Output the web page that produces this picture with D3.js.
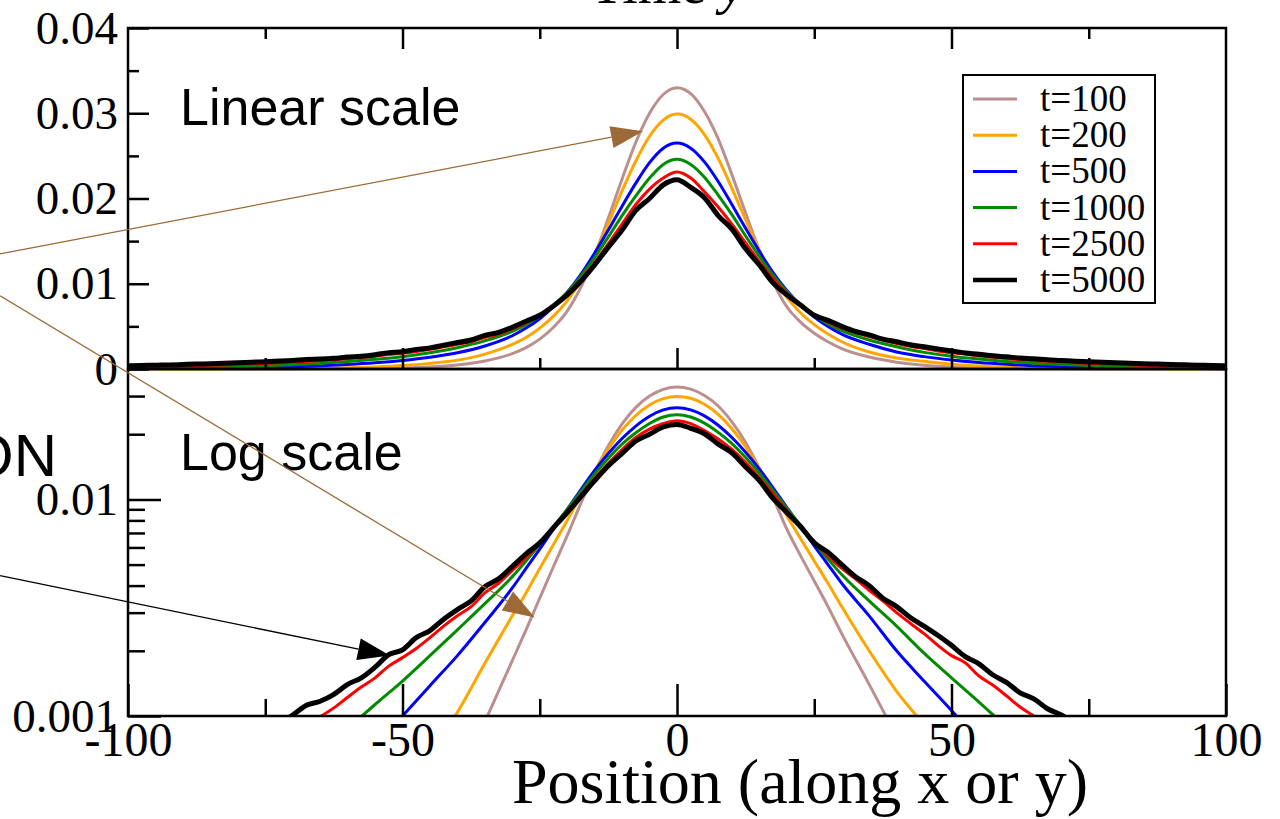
<!DOCTYPE html>
<html>
<head>
<meta charset="utf-8">
<script src="https://cdn.jsdelivr.net/npm/d3@7"></script>
<style>
  html, body { margin: 0; padding: 0; background: #fff; }
  svg { display: block; }
</style>
</head>
<body>
<svg id="chart" width="1280" height="819"></svg>
<script>
// Sampled positions along x (or y)
const positions = [-100,-95,-90,-85,-80,-75,-70,-65,-60,-55,-50,-45,-40,-35,
  -30,-27.5,-25,-22.5,-20,-17.5,-15,-12.5,-10,-7.5,-5,-2.5,0,2.5,5,7.5,10,12.5,15,17.5,20,22.5,25,27.5,30,
  35,40,45,50,55,60,65,70,75,80,85,90,95,100];
// Finer sampling used for the noisier late-time curves
const finePositions = [-100,-97.5,-95,-92.5,-90,-87.5,-85,-82.5,-80,-77.5,-75,-72.5,-70,-67.5,-65,-62.5,-60,-57.5,-55,-52.5,
  -50,-47.5,-45,-42.5,-40,-37.5,-35,-32.5,-30,-27.5,-25,-22.5,-20,-17.5,-15,-12.5,-10,-7.5,-5,-2.5,
  0,2.5,5,7.5,10,12.5,15,17.5,20,22.5,25,27.5,30,32.5,35,37.5,40,42.5,45,47.5,
  50,52.5,55,57.5,60,62.5,65,67.5,70,72.5,75,77.5,80,82.5,85,87.5,90,92.5,95,97.5,100];

// Distribution at each time
const p100 = [2e-7,3e-7,5e-7,1e-6,2e-6,4e-6,8e-6,1.5e-5,3e-5,6e-5,1.2e-4,2.4e-4,4.8e-4,9.4e-4,
  0.0018,0.0025,0.0035,0.0049,0.0068,0.0096,0.0133,0.0177,0.0223,0.0266,0.0300,0.0322,0.0330,0.0323,0.0302,0.0270,0.0228,0.0183,0.0139,0.0102,0.0073,0.0055,0.0042,0.0032,0.0024,
  0.0014,8.0e-4,4.4e-4,2.3e-4,1.2e-4,6e-5,3e-5,1.5e-5,7.5e-6,3.8e-6,1.9e-6,9e-7,4.5e-7,2.2e-7];
const p200 = [3e-6,5e-6,8e-6,1.2e-5,2e-5,3.3e-5,5.5e-5,9e-5,1.5e-4,2.4e-4,4e-4,6.6e-4,1.04e-3,1.75e-3,
  0.0029,0.0037,0.0048,0.0062,0.0080,0.0104,0.0135,0.0171,0.0209,0.0244,0.0273,0.0292,0.0299,0.0293,0.0275,0.0247,0.0212,0.0175,0.0139,0.0108,0.0084,0.0066,0.0052,0.0041,0.0032,
  0.0020,1.3e-3,9.0e-4,5.7e-4,3.5e-4,2.1e-4,1.3e-4,8e-5,5e-5,3e-5,1.9e-5,1.2e-5,7e-6,4e-6];
const p500 = [3e-5,4.5e-5,6.5e-5,9e-5,1.3e-4,1.8e-4,2.6e-4,3.7e-4,5.2e-4,7.2e-4,1.0e-3,1.38e-3,1.9e-3,2.7e-3,
  0.0039,0.0048,0.0059,0.0073,0.0090,0.0111,0.0136,0.0163,0.0191,0.0218,0.0242,0.0259,0.0265,0.0259,0.0243,0.0220,0.0193,0.0165,0.0138,0.0113,0.0092,0.0075,0.0061,0.0050,0.0041,
  0.0029,0.0020,1.45e-3,1.06e-3,7.6e-4,5.5e-4,3.9e-4,2.8e-4,2e-4,1.4e-4,1e-4,7e-5,5e-5,3.5e-5];
const p1000 = [1e-4,1.3e-4,1.7e-4,2.2e-4,2.9e-4,3.8e-4,5e-4,6.6e-4,8.7e-4,1.13e-3,1.45e-3,1.9e-3,2.5e-3,3.3e-3,
  0.0044,0.0052,0.0062,0.0075,0.0090,0.0109,0.0131,0.0155,0.0180,0.0203,0.0224,0.0240,0.0246,0.0240,0.0225,0.0204,0.0181,0.0156,0.0132,0.0110,0.0091,0.0076,0.0063,0.0053,0.0045,
  0.0034,0.0026,1.95e-3,1.5e-3,1.16e-3,8.9e-4,6.8e-4,5.2e-4,4e-4,3e-4,2.3e-4,1.8e-4,1.4e-4,1.1e-4];
const p2500 = [2.3e-4,2.5e-4,2.8e-4,3.1e-4,3.5e-4,3.9e-4,4.3e-4,4.8e-4,5.3e-4,5.9e-4,6.5e-4,7.2e-4,8.0e-4,8.8e-4,9.9e-4,1.09e-3,1.22e-3,1.36e-3,1.50e-3,1.70e-3,
  1.86e-3,2.05e-3,2.30e-3,2.60e-3,2.90e-3,3.20e-3,3.70e-3,4.10e-3,4.70e-3,5.40e-3,6.30e-3,7.40e-3,8.80e-3,0.0105,0.0125,0.0147,0.0170,0.0193,0.0211,0.0224,
  0.0231,0.0224,0.0208,0.0190,0.0170,0.0148,0.0126,0.0106,0.0089,0.0075,0.0064,0.0055,0.0048,0.0043,0.0038,0.0034,0.0030,0.00268,0.0024,0.00212,
  0.0019,0.00176,0.00153,0.00139,0.00124,0.00110,0.00100,0.00090,0.00081,0.00073,0.00066,0.00060,0.00054,0.00049,0.00044,0.00040,0.00036,0.00032,0.00029,0.00026,0.00024];
const p5000 = [3.8e-4,4.1e-4,4.5e-4,4.8e-4,5.3e-4,5.8e-4,6.2e-4,6.8e-4,7.3e-4,8.0e-4,8.6e-4,9.3e-4,1.01e-3,1.12e-3,1.17e-3,1.26e-3,1.40e-3,1.50e-3,1.68e-3,1.92e-3,
  2.02e-3,2.30e-3,2.48e-3,2.80e-3,3.10e-3,3.40e-3,3.95e-3,4.30e-3,4.90e-3,5.60e-3,6.30e-3,7.40e-3,8.70e-3,0.0103,0.0122,0.0143,0.0163,0.0186,0.0200,0.0216,
  0.0222,0.0213,0.0201,0.0180,0.0164,0.0141,0.0122,0.0101,0.0087,0.0075,0.0063,0.0057,0.0050,0.0044,0.0040,0.0035,0.0032,0.00285,0.0026,0.00236,
  0.00212,0.00188,0.00174,0.00155,0.00143,0.00128,0.00120,0.00108,0.00101,0.00092,0.00086,0.00079,0.00073,0.00068,0.00062,0.00058,0.00053,0.00049,0.00045,0.00042,0.00038];

const seriesLabels = ["t=100", "t=200", "t=500", "t=1000", "t=2500", "t=5000"];
const seriesValues = [p100, p200, p500, p1000, p2500, p5000];
const seriesPositions = [positions, positions, positions, positions, finePositions, finePositions];
const seriesColors = ["#bc8f8f", "#ffa500", "#0000ff", "#008b00", "#ff0000", "#000000"];

// Tick values and labels
const xTicks = [-100, -50, 0, 50, 100];
const xTickLabels = ["-100", "-50", "0", "50", "100"];
const xMinorTicks = [-75, -25, 25, 75];
const linTicks = [0, 0.01, 0.02, 0.03, 0.04];
const linTickLabels = ["0", "0.01", "0.02", "0.03", "0.04"];
const linMinorTicks = [0.005, 0.015, 0.025, 0.035];
const logTicks = [0.001, 0.01];
const logTickLabels = ["0.001", "0.01"];
const logMinorTicks = [0.002, 0.003, 0.004, 0.005, 0.006, 0.007, 0.008, 0.009, 0.02, 0.03];

// Pointer arrows, given in the coordinates of the panel they point into
const arrowPanels = ["linear", "log", "log"];
const arrowFrom = [[-123.3, 0.0135], [-123.3, 0.0871], [-123.3, 0.00445]];
const arrowTo = [[-6.2, 0.0279], [-25.9, 0.00285], [-52.3, 0.0019]];
const arrowColors = ["#9c6a36", "#9c6a36", "#000000"];

const serif = "'Liberation Serif','Times New Roman',Times,serif";
const sans = "'Liberation Sans',Arial,Helvetica,sans-serif";

const svg = d3.select("#chart");
const X0 = 128, X1 = 1226, TOP = 28, MID = 369, BOT = 716;

const x = d3.scaleLinear().domain([-100, 100]).range([X0, X1]);
const yLin = d3.scaleLinear().domain([0, 0.04]).range([MID, TOP]);
const yLog = d3.scaleLog().domain([0.001, 0.04]).range([BOT, MID]);

svg.append("rect").attr("width", 1280).attr("height", 819).attr("fill", "#fff");

svg.append("defs").append("clipPath").attr("id", "logClip")
  .append("rect").attr("x", X0).attr("y", MID).attr("width", X1 - X0).attr("height", BOT - MID);

const series = seriesLabels.map((label, i) => ({
  label, values: seriesValues[i], xs: seriesPositions[i], color: seriesColors[i],
  width: label === "t=5000" ? 5 : 3
}));

const lineFor = (ys, s) => d3.line()
  .x((d, i) => x(s.xs[i])).y(d => ys(d)).curve(d3.curveMonotoneX)(s.values);

// Curves: linear panel
svg.append("g").selectAll("path").data(series).join("path")
  .attr("d", d => lineFor(yLin, d))
  .attr("fill", "none").attr("stroke", d => d.color).attr("stroke-width", d => d.width)
  .attr("stroke-linejoin", "round");

// Curves: log panel
svg.append("g").attr("clip-path", "url(#logClip)")
  .selectAll("path").data(series).join("path")
  .attr("d", d => lineFor(yLog, d))
  .attr("fill", "none").attr("stroke", d => d.color).attr("stroke-width", d => d.width)
  .attr("stroke-linejoin", "round");

// Panel frames
[[TOP, MID], [MID, BOT]].forEach(([a, b]) => {
  svg.append("rect").attr("x", X0).attr("y", a).attr("width", X1 - X0).attr("height", b - a)
    .attr("fill", "none").attr("stroke", "#000").attr("stroke-width", 2.5);
});

function styleAxis(g, fontSize) {
  g.select(".domain").remove();
  g.selectAll(".tick line").attr("stroke", "#000").attr("stroke-width", 2.5);
  g.selectAll("text").attr("fill", "#000").attr("font-family", serif).attr("font-size", fontSize);
}

const add = (tr, axis, fs) => svg.append("g").attr("transform", tr).call(axis).call(g => styleAxis(g, fs));

// Linear panel axes
add(`translate(${X0},0)`, d3.axisLeft(yLin).tickValues(linTicks).tickFormat((d, i) => linTickLabels[i]).tickSize(-21).tickPadding(10), 47);
add(`translate(${X0},0)`, d3.axisLeft(yLin).tickValues(linMinorTicks).tickFormat("").tickSize(-11), 0);
add(`translate(0,${TOP})`, d3.axisTop(x).tickValues([-50, 0, 50]).tickFormat("").tickSize(-21), 0);
add(`translate(0,${TOP})`, d3.axisTop(x).tickValues(xMinorTicks).tickFormat("").tickSize(-11), 0);
add(`translate(0,${MID})`, d3.axisBottom(x).tickValues([-50, 0, 50]).tickFormat("").tickSize(-21), 0);
add(`translate(0,${MID})`, d3.axisBottom(x).tickValues(xMinorTicks).tickFormat("").tickSize(-11), 0);

// Log panel axes
add(`translate(${X0},0)`, d3.axisLeft(yLog).tickValues(logTicks).tickFormat((d, i) => logTickLabels[i]).tickSize(-33).tickPadding(10), 47);
add(`translate(${X0},0)`, d3.axisLeft(yLog).tickValues(logMinorTicks).tickFormat("").tickSize(-17), 0);
add(`translate(0,${BOT})`, d3.axisBottom(x).tickValues(xTicks).tickFormat((d, i) => xTickLabels[i]).tickSize(-32).tickPadding(6), 48);
add(`translate(0,${BOT})`, d3.axisBottom(x).tickValues(xMinorTicks).tickFormat("").tickSize(-17), 0);

// Panel captions and titles
svg.append("text").attr("x", 180).attr("y", 125).attr("font-family", sans).attr("font-size", 52).text("Linear scale");
svg.append("text").attr("x", 180).attr("y", 470).attr("font-family", sans).attr("font-size", 52).text("Log scale");
svg.append("text").attr("x", 57).attr("y", 476).attr("text-anchor", "end").attr("font-family", sans).attr("font-size", 60).text("ON");
svg.append("text").attr("x", 512).attr("y", 803).attr("font-family", serif).attr("font-size", 64).text("Position (along x or y)");
const title = svg.append("text").attr("x", 590).attr("y", 3).attr("font-family", serif).attr("font-size", 56);
title.append("tspan").text("Time ");
title.append("tspan").attr("font-style", "italic").text("y");

// Legend
const lg = svg.append("g");
lg.append("rect").attr("x", 963).attr("y", 75).attr("width", 192).attr("height", 228)
  .attr("fill", "#fff").attr("stroke", "#000").attr("stroke-width", 2);
const rows = lg.selectAll("g.row").data(series).join("g").attr("class", "row")
  .attr("transform", (d, i) => `translate(0,${99 + i * 36.2})`);
rows.append("line").attr("x1", 973).attr("x2", 1017).attr("y1", 0).attr("y2", 0)
  .attr("stroke", d => d.color).attr("stroke-width", d => d.label === "t=5000" ? 4.5 : 3);
rows.append("text").attr("x", 1040).attr("y", 12).attr("font-family", serif).attr("font-size", 37).text(d => d.label);

// Pointer arrows
const arrows = arrowPanels.map((p, i) => {
  const ys = p === "linear" ? yLin : yLog;
  return {
    x1: x(arrowFrom[i][0]), y1: ys(arrowFrom[i][1]),
    x2: x(arrowTo[i][0]), y2: ys(arrowTo[i][1]), color: arrowColors[i]
  };
});
const ag = svg.append("g");
arrows.forEach(a => {
  const ang = Math.atan2(a.y2 - a.y1, a.x2 - a.x1);
  const len = 32, hw = 11;
  const bx = a.x2 - len * Math.cos(ang), by = a.y2 - len * Math.sin(ang);
  ag.append("line").attr("x1", a.x1).attr("y1", a.y1).attr("x2", bx).attr("y2", by)
    .attr("stroke", a.color).attr("stroke-width", 1.3);
  const pts = [[a.x2, a.y2],
    [bx + hw * Math.sin(ang), by - hw * Math.cos(ang)],
    [bx - hw * Math.sin(ang), by + hw * Math.cos(ang)]];
  ag.append("polygon").attr("points", pts.map(p => p.join(",")).join(" ")).attr("fill", a.color);
});
</script>
</body>
</html>
